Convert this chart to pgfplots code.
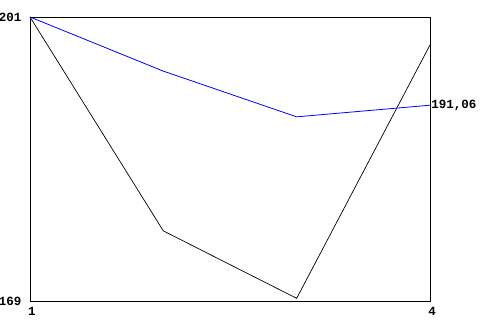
\documentclass[border=0pt]{standalone}
\usepackage{fontspec}
\setmainfont{Liberation Mono}
\usepackage{pgfplots}
\pgfplotsset{compat=1.18}
\begin{document}
\begin{tikzpicture}
\useasboundingbox[fill=white] (0,0) rectangle (480pt,320pt);
\begin{axis}[
  at={(30pt,19pt)}, anchor=south west,
  width=400pt, height=284pt, scale only axis,
  xmin=1, xmax=4, ymin=169, ymax=201,
  xtick={1,4}, ytick={169,201},
  major tick length=0pt,
  axis line style={black, line width=0.8pt},
  tick label style={font=\fontsize{12.5}{14}\selectfont\bfseries},
  /pgf/number format/assume math mode=true,
  xticklabel style={yshift=-3pt, xshift=2pt},
  yticklabel style={xshift=-5pt},
  clip=false,
]
\addplot[black, line width=0.7pt] coordinates {(1,201) (2,176.9) (3,169.3) (4,197.85)};
\addplot[blue, line width=0.8pt] coordinates {(1,201) (2,194.9) (3,189.75) (4,191.06)}
  node[pos=1, anchor=west, inner sep=1pt, font=\fontsize{12.5}{14}\selectfont\bfseries, black] {191,06};
\end{axis}
\end{tikzpicture}
\end{document}
